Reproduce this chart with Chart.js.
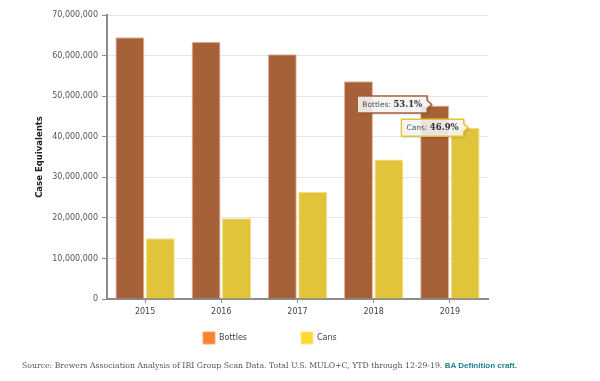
<!DOCTYPE html>
<html><head><meta charset="utf-8">
<script src="https://cdn.jsdelivr.net/npm/chart.js@4/dist/chart.umd.min.js"></script>
<style>
html,body{margin:0;padding:0;background:#fff;width:600px;height:381px;overflow:hidden}
#wrap{position:absolute;left:0;top:0;width:600px;height:381px}
#foot{position:absolute;left:22px;top:360px;white-space:nowrap;font-family:"DejaVu Serif",serif;font-size:7.75px;line-height:12px;color:#555}
#foot b{font-family:"Liberation Sans",sans-serif;color:#1f8090;font-weight:bold;font-size:8px}
</style></head><body>
<div id="wrap"><canvas id="c" width="600" height="381"></canvas></div>
<div id="foot">Source: Brewers Association Analysis of IRI Group Scan Data. Total U.S. MULO+C, YTD through 12-29-19. <b>BA Definition craft.</b></div>
<script>
// ---- data ----
const years = ['2015', '2016', '2017', '2018', '2019'];
const bottles = [64.5e6, 63.4e6, 60.3e6, 53.7e6, 47.7e6];
const cans = [14.95e6, 19.9e6, 26.4e6, 34.4e6, 42.2e6];
const seriesNames = ['Bottles', 'Cans'];
const yMin = 0, yMax = 70e6, yStep = 10e6;

// ---- styles ----
const barFill = ['#a66138', '#e2c43b'];
const barEdge = ['#e6b596', '#f4e07e'];
const legendFill = ['#f7832e', '#fdd935'];
const legendEdge = ['#f9a868', '#fee77a'];

const calloutPlugin = {
  id: 'callouts',
  afterDatasetsDraw(chart) {
    const ctx = chart.ctx;
    const last = years.length - 1;
    const total = bottles[last] + cans[last];
    const items = [
      {ds: 0, label: seriesNames[0] + ': ', value: (bottles[last] / total * 100).toFixed(1) + '%', dx: -3, dy: -1},
      {ds: 1, label: seriesNames[1] + ': ', value: (cans[last] / total * 100).toFixed(1) + '%', dx: 3, dy: 0}
    ];
    items.forEach(it => {
      const el = chart.getDatasetMeta(it.ds).data[last];
      const tipX = el.x + it.dx, tipY = el.y + it.dy;
      ctx.save();
      ctx.font = '7.5px "DejaVu Sans"';
      const w1 = ctx.measureText(it.label).width;
      ctx.font = 'bold 8.5px "DejaVu Serif"';
      const w2 = ctx.measureText(it.value).width;
      const padX = 5, h = 17, arrow = 4.5;
      const right = tipX - arrow, w = w1 + w2 + padX * 2, left = right - w, top = tipY - h / 2;
      const path = () => {
        ctx.beginPath();
        ctx.moveTo(left, top); ctx.lineTo(right, top); ctx.lineTo(right, tipY - 4);
        ctx.lineTo(tipX, tipY); ctx.lineTo(right, tipY + 4); ctx.lineTo(right, top + h);
        ctx.lineTo(left, top + h); ctx.closePath();
      };
      ctx.shadowColor = 'rgba(0,0,0,0.3)'; ctx.shadowOffsetX = 1; ctx.shadowOffsetY = 1; ctx.shadowBlur = 2;
      path(); ctx.fillStyle = 'rgba(255,255,255,0.85)'; ctx.fill();
      ctx.shadowColor = 'transparent';
      path(); ctx.strokeStyle = barFill[it.ds]; ctx.lineWidth = 1.5; ctx.stroke();
      ctx.textBaseline = 'middle';
      ctx.font = '7.5px "DejaVu Sans"'; ctx.fillStyle = '#555';
      ctx.fillText(it.label, left + padX, tipY + 0.5);
      ctx.font = 'bold 8.5px "DejaVu Serif"'; ctx.fillStyle = '#333';
      ctx.fillText(it.value, left + padX + w1, tipY + 0.5);
      ctx.restore();
    });
  }
};

const legendPlace = {
  id: 'legendPlace',
  beforeDraw(chart) {
    const lg = chart.legend; if (!lg) return;
    const p = lg.options.labels.padding;
    const h = lg.height;
    lg.top = chart.chartArea.bottom + 33 - p; lg.bottom = lg.top + h;
    lg.left = chart.chartArea.left + 96 - p; lg.right = 600;
  }
};

new Chart(document.getElementById('c'), {
  type: 'bar',
  data: {
    labels: years,
    datasets: [
      {label: seriesNames[0], data: bottles, backgroundColor: barFill[0], borderColor: barEdge[0], borderWidth: 1, categoryPercentage: 0.8, barPercentage: 0.95},
      {label: seriesNames[1], data: cans, backgroundColor: barFill[1], borderColor: barEdge[1], borderWidth: 1, categoryPercentage: 0.8, barPercentage: 0.95}
    ]
  },
  options: {
    responsive: false,
    animation: false,
    devicePixelRatio: 1,
    layout: {padding: {top: 15, right: 112, bottom: -14, left: 0}},
    plugins: {
      tooltip: {enabled: false},
      legend: {
        position: 'bottom', align: 'start',
        labels: {
          boxWidth: 12, boxHeight: 12, padding: 54,
          font: {family: 'DejaVu Sans', size: 8}, color: '#444',
          generateLabels: chart => chart.data.datasets.map((ds, i) => ({
            text: ds.label, fillStyle: legendFill[i], strokeStyle: legendEdge[i], lineWidth: 1,
            hidden: false, datasetIndex: i, fontColor: '#444'
          }))
        }
      }
    },
    scales: {
      x: {
        ticks: {font: {family: 'DejaVu Sans', size: 8}, color: '#444', padding: 4},
        grid: {offset: false, drawOnChartArea: false, tickColor: '#8c8c8c', tickLength: 4},
        border: {color: '#8c8c8c', width: 2},
        afterFit: s => { s.height = 20; }
      },
      y: {
        min: yMin, max: yMax,
        ticks: {stepSize: yStep, callback: v => v.toLocaleString('en-US'), font: {family: 'DejaVu Sans', size: 8}, color: '#555', padding: 4},
        grid: {color: '#e6e6e6', tickColor: '#8c8c8c', tickLength: 5},
        border: {color: '#8c8c8c', width: 2},
        title: {display: true, text: 'Case Equivalents', font: {family: 'DejaVu Sans', size: 8.5, weight: 'bold'}, color: '#222', padding: {top: 34.9, bottom: 0}},
        afterFit: s => { s.width = 107; }
      }
    }
  },
  plugins: [calloutPlugin, legendPlace]
});
</script>
</body></html>
